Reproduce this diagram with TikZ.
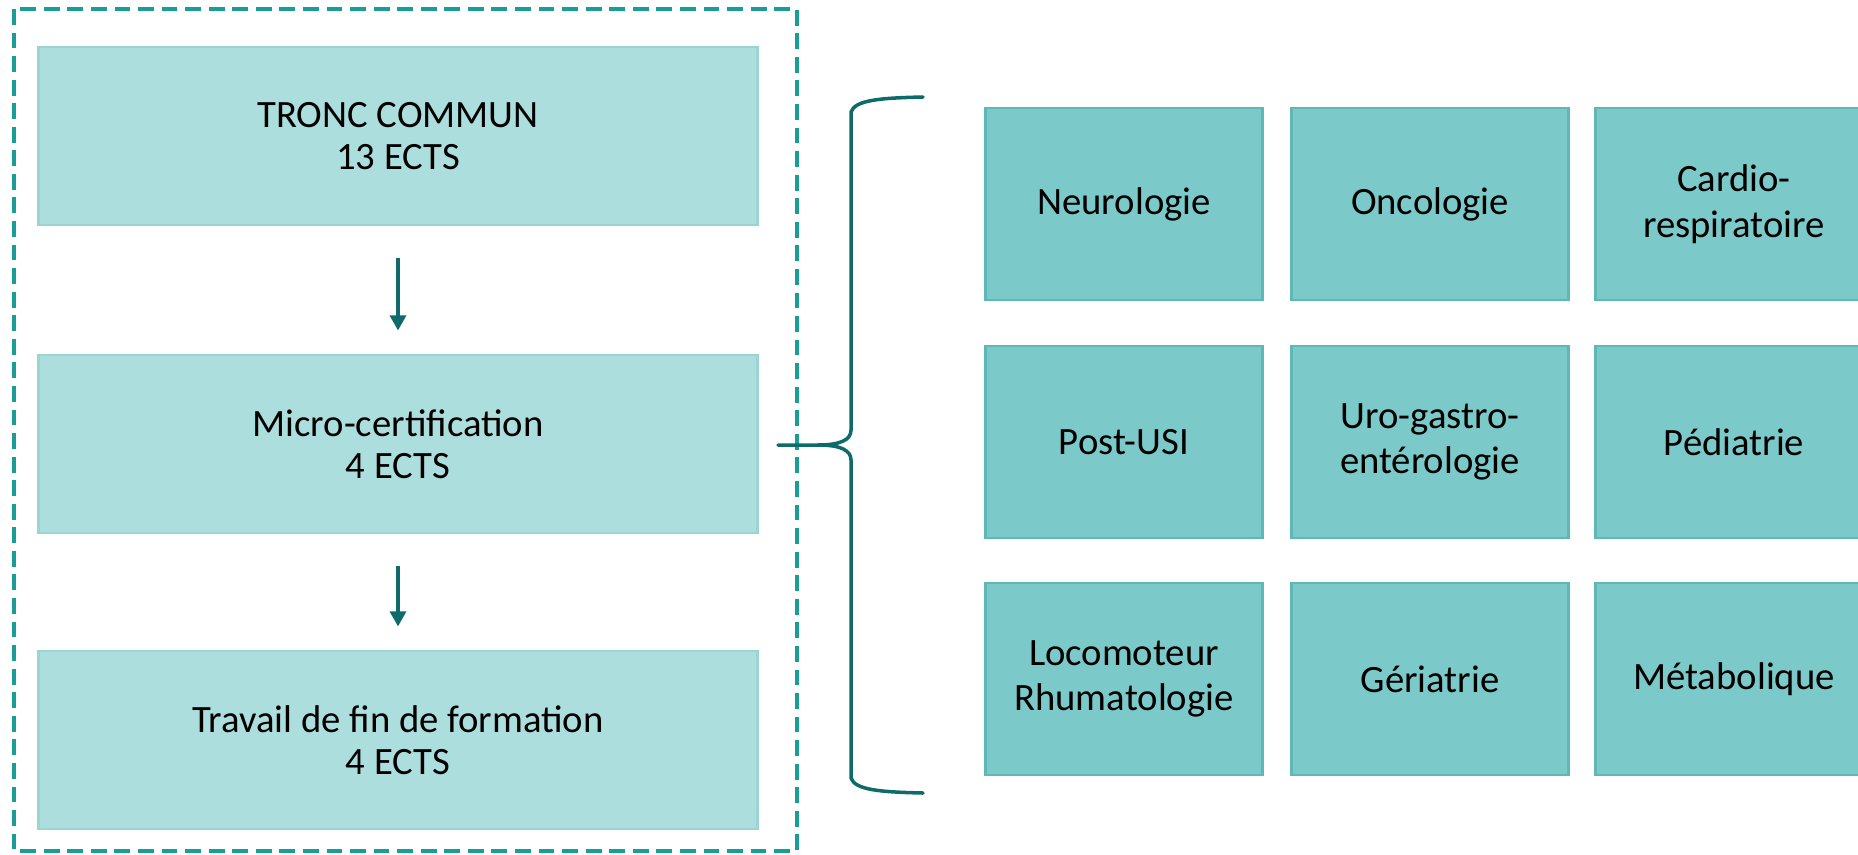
\documentclass[tikz,border=0pt]{standalone}
\usepackage{fontspec}
\setmainfont{Carlito}
\usetikzlibrary{arrows.meta}

\definecolor{hell}{HTML}{ADDEDE}
\definecolor{hellrand}{HTML}{9CD4D2}
\definecolor{mittel}{HTML}{7BC9C9}
\definecolor{mittelrand}{HTML}{5EB8B6}
\definecolor{dunkel}{HTML}{0F6B6B}
\definecolor{rahmen}{HTML}{1A9C97}

\tikzset{
  modul/.style={draw=hellrand, fill=hell, line width=0.8pt, minimum width=7.19cm, minimum height=1.78cm, align=center, font=\fontsize{11}{12}\selectfont},
  fach/.style={draw=mittelrand, fill=mittel, line width=0.8pt, minimum width=2.77cm, minimum height=1.92cm, align=center, font=\fontsize{11}{13}\selectfont},
  pfeil/.style={-{Triangle[length=4.3pt,width=4.5pt]}, dunkel, line width=1.1pt, shorten <=0.32cm, shorten >=0.23cm}
}

\begin{document}
\begin{tikzpicture}[x=0.01cm,y=-0.01cm]
\useasboundingbox (0,0) rectangle (1858,854);

%Rahmen
\draw[rahmen, line width=0.9pt, dash pattern=on 4.5pt off 2.2pt] (14,9) rectangle (797,851);

%Module
\node[modul] (tronc) at (398,136) {TRONC COMMUN\\13 ECTS};
\node[modul] (micro) at (398,444) {Micro-certification\\4 ECTS};
\node[modul] (tfe) at (398,740) {Travail de fin de formation\\4 ECTS};

\draw[pfeil] (tronc) -- (micro);
\draw[pfeil] (micro) -- (tfe);

%Klammer
\coordinate (spitze) at (778,445);
\draw[dunkel, line width=1pt, line cap=round] (923,97) .. controls (880,98) and (855,100) .. (851,112) -- (851,430)
  .. controls (851,440) and (840,445) .. (818,445) -- (spitze);
\draw[dunkel, line width=1pt, line cap=round] (923,793) .. controls (880,792) and (855,790) .. (851,778) -- (851,460)
  .. controls (851,450) and (840,445) .. (818,445);

%Faecher
\node[fach] (neuro) at (1124,204) {Neurologie};
\node[fach] (onco) at (1430,204) {Oncologie};
\node[fach] (cardio) at (1734,204) {Cardio-\\respiratoire};
\node[fach] (usi) at (1124,442) {Post-USI};
\node[fach] (uro) at (1430,442) {Uro-gastro-\\entérologie};
\node[fach] (pedia) at (1734,442) {Pédiatrie};
\node[fach] (loco) at (1124,679) {Locomoteur\\Rhumatologie};
\node[fach] (geria) at (1430,679) {Gériatrie};
\node[fach] (meta) at (1734,679) {Métabolique};

\end{tikzpicture}
\end{document}
